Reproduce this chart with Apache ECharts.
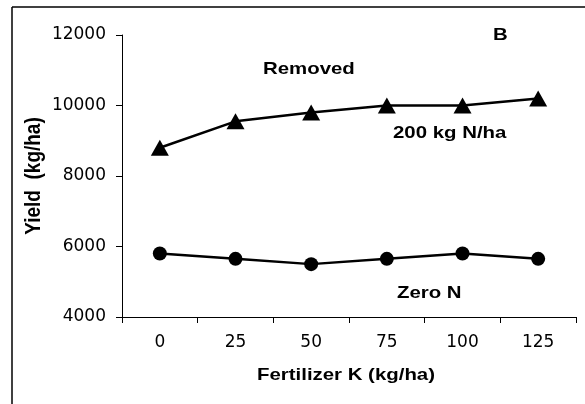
<!DOCTYPE html>
<html>
<head>
<meta charset="utf-8">
<script src="https://cdn.jsdelivr.net/npm/echarts@6/dist/echarts.min.js"></script>
<style>
  html, body { margin: 0; padding: 0; background: #fff; }
  #chart { width: 585px; height: 404px; }
</style>
</head>
<body>
<div id="chart"></div>
<script>
// Potassium rates (kg/ha) on the x axis
const kRates = ['0', '25', '50', '75', '100', '125'];
// Grain yield (kg/ha) with straw removed
const yield200N = [8800, 9550, 9800, 10000, 10000, 10200];
const yieldZeroN = [5800, 5650, 5500, 5650, 5800, 5650];
// Y axis scale
const yMin = 4000, yMax = 12000, yStep = 2000;

const FONT = 'Liberation Sans, Arial, sans-serif';
const TICK_FONT = 'DejaVu Sans, Liberation Sans, sans-serif';
const WIDE = 1.2; // horizontal stretch of the bold captions

const chart = echarts.init(document.getElementById('chart'), null, { renderer: 'canvas' });

function caption(text, x, y, size, align) {
  return {
    type: 'text', x: x, y: y, scaleX: WIDE,
    style: { text: text, font: 'bold ' + size + 'px ' + FONT, fill: '#000',
             align: align || 'left', verticalAlign: 'middle' }
  };
}

chart.setOption({
  animation: false,
  backgroundColor: '#fff',
  grid: { left: 122, right: 9, top: 35, bottom: 87 },
  xAxis: {
    type: 'category',
    data: kRates,
    boundaryGap: true,
    axisLine: { lineStyle: { color: '#000', width: 1 } },
    axisTick: { show: true, length: 6, lineStyle: { color: '#000' } },
    axisLabel: { color: '#000', fontSize: 17, fontFamily: TICK_FONT, margin: 17 },
    splitLine: { show: false }
  },
  yAxis: {
    type: 'value',
    min: yMin, max: yMax, interval: yStep,
    axisLine: { show: true, lineStyle: { color: '#000', width: 1 } },
    axisTick: { show: true, length: 6, lineStyle: { color: '#000' } },
    axisLabel: { color: '#000', fontSize: 17, fontFamily: TICK_FONT, margin: 16,
                 formatter: function (v) { return String(v); } },
    splitLine: { show: false }
  },
  series: [
    {
      name: '200 kg N/ha',
      type: 'line',
      data: yield200N,
      symbol: 'triangle',
      symbolSize: [18, 16],
      lineStyle: { color: '#000', width: 2.5 },
      itemStyle: { color: '#000' }
    },
    {
      name: 'Zero N',
      type: 'line',
      data: yieldZeroN,
      symbol: 'circle',
      symbolSize: 14,
      lineStyle: { color: '#000', width: 2.5 },
      itemStyle: { color: '#000' }
    }
  ],
  graphic: [
    // outer frame (top and left edges)
    { type: 'line', shape: { x1: 12, y1: 7, x2: 585, y2: 7 }, style: { stroke: '#000', lineWidth: 1.5 } },
    { type: 'line', shape: { x1: 12, y1: 7, x2: 12, y2: 404 }, style: { stroke: '#000', lineWidth: 1.5 } },
    caption('B', 493, 35, 17),
    caption('Removed', 263, 69, 17),
    caption('200 kg N/ha', 393, 133, 17),
    caption('Zero N', 397, 293, 17),
    caption('Fertilizer K (kg/ha)', 346, 375, 17, 'center'),
    {
      type: 'text', x: 34, y: 176, rotation: Math.PI / 2, scaleY: WIDE,
      style: { text: 'Yield  (kg/ha)', font: 'bold 19px ' + FONT, fill: '#000',
               align: 'center', verticalAlign: 'middle' }
    }
  ]
});
</script>
</body>
</html>
